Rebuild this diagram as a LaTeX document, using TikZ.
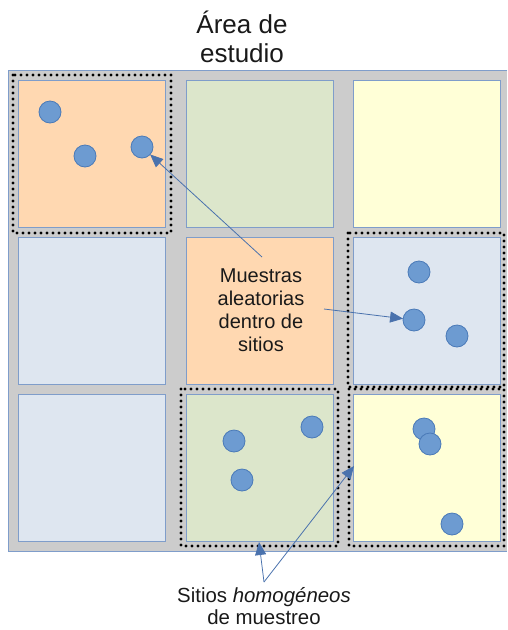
\documentclass[tikz,border=0pt]{standalone}
\usepackage{fontspec}
\setmainfont{Liberation Sans}
\usetikzlibrary{arrows.meta}
\definecolor{bggray}{HTML}{CCCCCC}
\definecolor{edgeblue}{HTML}{7F9DCA}
\definecolor{peach}{HTML}{FFD8B1}
\definecolor{sage}{HTML}{DCE6CB}
\definecolor{cream}{HTML}{FFFFD7}
\definecolor{pale}{HTML}{DEE6F0}
\definecolor{dotfill}{HTML}{6D9BD1}
\definecolor{dotedge}{HTML}{4A7AB8}
\definecolor{arrowblue}{HTML}{4A72AD}
\tikzset{
  cell/.style={draw=edgeblue, line width=1pt, minimum width=147pt, minimum height=147pt, inner sep=0pt, outer sep=0pt},
  sample/.style={circle, draw=dotedge, fill=dotfill, line width=0.8pt, minimum size=22pt, inner sep=0pt, outer sep=0pt},
  site/.style={draw=black, line width=3.3pt, line cap=round, dash pattern=on 0pt off 6pt},
  pointer/.style={draw=arrowblue, line width=0.8pt, -{Triangle[length=13pt,width=11pt]}},
  label/.style={align=center, inner sep=0pt, text=black!90}
}
\begin{document}
\begin{tikzpicture}[x=1pt,y=-1pt]
\useasboundingbox (0,0) rectangle (507,630);
% title
\node[label, font=\fontsize{26}{29}\selectfont] (title) at (242,37) {Área de\\estudio};
% background
\fill[bggray] (8,70) rectangle (507,551);
\draw[edgeblue, line width=1pt] (507,70) -- (8,70) -- (8,551) -- (507,551);
% cells
\node[cell, fill=peach] (s11) at (91.5,153.5) {};
\node[cell, fill=sage]  (s12) at (259.5,153.5) {};
\node[cell, fill=cream] (s13) at (426.5,153.5) {};
\node[cell, fill=pale]  (s21) at (91.5,310.5) {};
\node[cell, fill=peach] (s22) at (259.5,310.5) {};
\node[cell, fill=pale]  (s23) at (426.5,310.5) {};
\node[cell, fill=pale]  (s31) at (91.5,467.5) {};
\node[cell, fill=sage]  (s32) at (259.5,467.5) {};
\node[cell, fill=cream] (s33) at (426.5,467.5) {};
% dotted site frames
\draw[site] (13,75) rectangle (171,233);
\draw[site] (348,233) rectangle (504,387);
\draw[site] (181,389) rectangle (338,546);
\draw[site] (349,389) rectangle (504,546);
% samples
\node[sample] (c11) at (50,112) {};
\node[sample] (c12) at (85,156) {};
\node[sample] (c13) at (142,147) {};
\node[sample] (c21) at (419,272) {};
\node[sample] (c22) at (414,320) {};
\node[sample] (c23) at (457,336) {};
\node[sample] (c31) at (234,441) {};
\node[sample] (c32) at (312,427) {};
\node[sample] (c33) at (242,480) {};
\node[sample] (c41) at (424,429) {};
\node[sample] (c42) at (430,444) {};
\node[sample] (c43) at (452,524) {};
% texts
\node[label, font=\fontsize{20}{23}\selectfont] (mid) at (261,310) {Muestras\\aleatorias\\dentro de\\sitios};
\node[label, font=\fontsize{20.4}{21.5}\selectfont] (bottom) at (264,606) {Sitios \textit{homogéneos}\\de muestreo};
% connectors
\coordinate (m1) at (262,257);
\coordinate (m2) at (324,309);
\coordinate (b0) at (264,582);
\coordinate (t1) at (259,542);
\coordinate (t2) at (354,466);
\draw[pointer] (m1) -- (c13);
\draw[pointer] (m2) -- (c22);
\draw[pointer] (b0) -- (t1);
\draw[pointer] (b0) -- (t2);
\end{tikzpicture}
\end{document}
